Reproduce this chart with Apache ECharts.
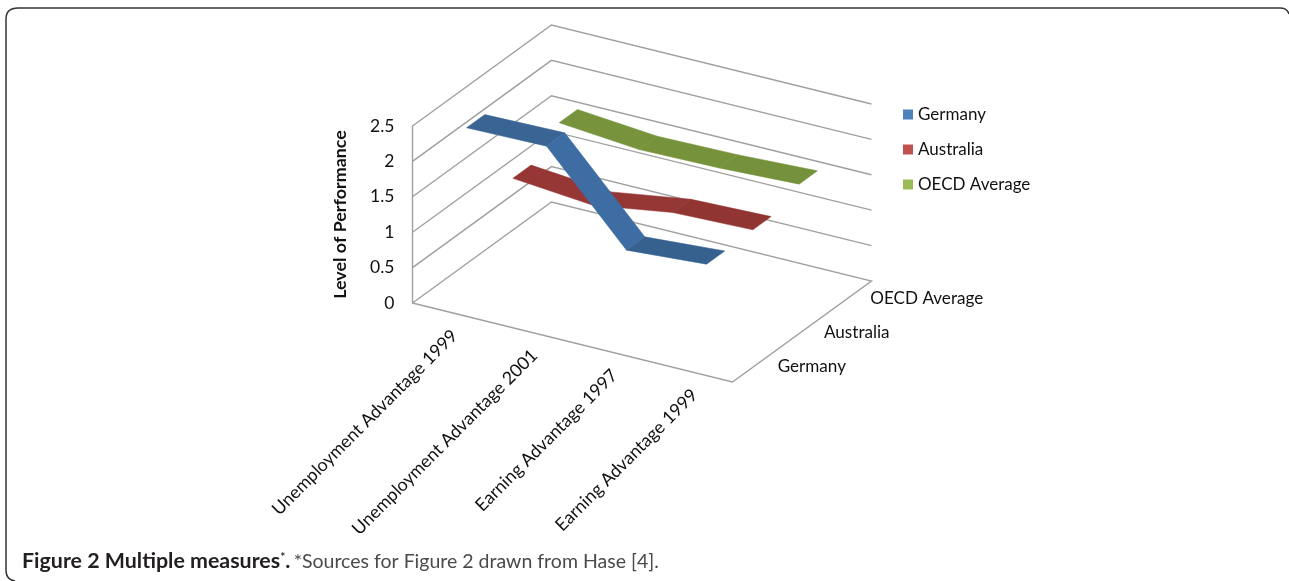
<!DOCTYPE html>
<html>
<head>
<meta charset="utf-8">
<style>html,body{margin:0;padding:0;background:#fff}#chart{width:1289px;height:581px}</style>
<script src="https://cdn.jsdelivr.net/npm/echarts@6/dist/echarts.min.js"></script>
</head>
<body>
<div id="chart"></div>
<script>
// Performance measures per country
const categories = ['Unemployment Advantage 1999', 'Unemployment Advantage 2001', 'Earning Advantage 1997', 'Earning Advantage 1999'];
const seriesNames = ['Germany', 'Australia', 'OECD Average'];
const germany = [2.47, 2.49, 1.30, 1.38];
const australia = [1.28, 1.18, 1.355, 1.39];
const oecdAverage = [1.59, 1.49, 1.51, 1.56];
const valueTicks = [0, 0.5, 1, 1.5, 2, 2.5];

// Colours
const legendColors = ['#4f81bd', '#c0504d', '#9bbb59'];
const segmentColors = [
  ['#3a6494', '#3d6da3', '#36618f'],
  ['#963735', '#953735', '#913533'],
  ['#77943c', '#76923b', '#75913b']
];
const gridColor = '#a0a0a0';
const textColor = '#111';
const frameColor = '#333';

// Oblique projection of the box into the flat axes.
// c runs along the categories (0..4), d along the series depth (0..1), v is the value.
const SHEAR_X_PER_DEPTH = 1.737;
const SHEAR_Y_PER_CAT = 0.279;
const SHEAR_Y_PER_DEPTH = 1.427;
const RIBBON_HALF = 0.0657;

function project(c, d, v) {
  return [c + d * SHEAR_X_PER_DEPTH, v - c * SHEAR_Y_PER_CAT + d * SHEAR_Y_PER_DEPTH];
}
const depthOf = j => (j + 0.5) / seriesNames.length;

function ribbonSeries(name, values, j) {
  return {
    type: 'custom',
    name,
    silent: true,
    clip: false,
    itemStyle: { color: legendColors[j] },
    data: values.map((v, i) => [i, v]),
    renderItem(params, api) {
      const i = api.value(0);
      if (i >= values.length - 1) return null;
      const d = depthOf(j);
      const pt = (k, dd) => api.coord(project(k + 0.5, d + dd, values[k]));
      return {
        type: 'polygon',
        shape: { points: [pt(i, -RIBBON_HALF), pt(i, RIBBON_HALF), pt(i + 1, RIBBON_HALF), pt(i + 1, -RIBBON_HALF)] },
        style: { fill: segmentColors[j][i], stroke: segmentColors[j][i], lineWidth: 0.5 }
      };
    }
  };
}

// Floor outline and the wall gridlines at each value tick
const wallSeries = {
  type: 'custom',
  silent: true,
  clip: false,
  data: valueTicks.map(v => [v]),
  renderItem(params, api) {
    const v = api.value(0);
    const corner = (c, d) => api.coord(project(c, d, v));
    const pts = v === 0
      ? [corner(0, 0), corner(0, 1), corner(4, 1), corner(4, 0), corner(0, 0)]
      : [corner(0, 0), corner(0, 1), corner(4, 1)];
    return {
      type: 'polyline',
      shape: { points: pts },
      style: { fill: null, stroke: gridColor, lineWidth: 1.4 }
    };
  }
};

// Category names sit under the front floor edge, series names beside the right one
const categoryLabelSeries = {
  type: 'custom',
  silent: true,
  clip: false,
  data: categories.map((c, i) => [i]),
  renderItem(params, api) {
    const i = api.value(0);
    const p = api.coord(project(i + 0.5, 0, 0));
    return {
      type: 'text',
      x: p[0] + 2,
      y: p[1] + 20,
      rotation: Math.PI / 4,
      style: { text: categories[i], font: '17.8px Lato, sans-serif', fill: textColor, align: 'right', verticalAlign: 'middle' }
    };
  }
};
const depthLabelSeries = {
  type: 'custom',
  silent: true,
  clip: false,
  data: seriesNames.map((n, j) => [j]),
  renderItem(params, api) {
    const j = api.value(0);
    const p = api.coord(project(4, depthOf(j), 0));
    return {
      type: 'text',
      x: p[0] + 22,
      y: p[1] + 1,
      style: { text: seriesNames[j], font: '17.1px Lato, sans-serif', fill: textColor, align: 'left', verticalAlign: 'middle' }
    };
  }
};

const frameStroke = { fill: null, stroke: frameColor, lineWidth: 1.5 };

const chart = echarts.init(document.getElementById('chart'), null, { renderer: 'canvas' });
chart.setOption({
  animation: false,
  backgroundColor: '#fff',
  tooltip: { show: false },
  grid: { left: 412.5, top: 126, width: 320, height: 177, containLabel: false },
  xAxis: { type: 'value', min: 0, max: 4, show: false },
  yAxis: {
    type: 'value',
    min: 0,
    max: 2.5,
    interval: 0.5,
    name: 'Level of Performance',
    nameLocation: 'middle',
    nameGap: 63,
    nameTextStyle: { fontFamily: 'Lato', fontSize: 17.9, fontWeight: 'bold', color: textColor },
    axisLine: { show: true, onZero: false, lineStyle: { color: gridColor, width: 1.4 } },
    axisTick: { show: false },
    splitLine: { show: false },
    axisLabel: { margin: 18, fontFamily: 'Lato', fontSize: 17.5, color: textColor, padding: [4, 0, 0, 0], formatter: v => String(v) }
  },
  legend: {
    orient: 'vertical',
    left: 903,
    top: 106,
    padding: 0,
    itemWidth: 10,
    itemHeight: 10,
    itemGap: 18,
    selectedMode: false,
    textStyle: { fontFamily: 'Lato', fontSize: 17, color: textColor },
    data: seriesNames.map((name, j) => ({ name, icon: 'rect', itemStyle: { color: legendColors[j] } }))
  },
  series: [
    wallSeries,
    ribbonSeries('OECD Average', oecdAverage, 2),
    ribbonSeries('Australia', australia, 1),
    ribbonSeries('Germany', germany, 0),
    categoryLabelSeries,
    depthLabelSeries
  ],
  graphic: [
    // Open rounded panel border
    { type: 'bezierCurve', silent: true, shape: { x1: 15, y1: 581, cpx1: 6, cpy1: 580, x2: 6, y2: 570 }, style: frameStroke },
    { type: 'line', silent: true, shape: { x1: 6, y1: 570, x2: 6, y2: 19 }, style: frameStroke },
    { type: 'bezierCurve', silent: true, shape: { x1: 6, y1: 19, cpx1: 6, cpy1: 8, x2: 18, y2: 8 }, style: frameStroke },
    { type: 'line', silent: true, shape: { x1: 18, y1: 8, x2: 1280, y2: 8 }, style: frameStroke },
    { type: 'bezierCurve', silent: true, shape: { x1: 1280, y1: 8, cpx1: 1287, cpy1: 8, x2: 1289, y2: 14 }, style: frameStroke },
    {
      type: 'text',
      silent: true,
      left: 22,
      top: 551,
      style: {
        text: '{b|Figure 2 Multiple measures}{s|*}{b|.} {r|*Sources for Figure 2 drawn from Hase [4].}',
        rich: {
          b: { font: 'bold 21.4px Lato, sans-serif', fill: '#231f20' },
          s: { font: 'bold 12px Lato, sans-serif', fill: '#231f20', verticalAlign: 'top' },
          r: { font: '19.5px Lato, sans-serif', fill: '#4a4a4a' }
        }
      }
    }
  ]
});
</script>
</body>
</html>
